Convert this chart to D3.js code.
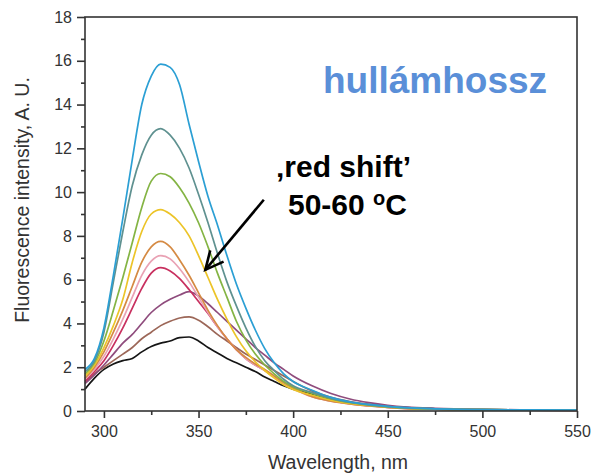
<!DOCTYPE html>
<html><head><meta charset="utf-8">
<script src="https://cdn.jsdelivr.net/npm/d3@7"></script>
<style>
html,body{margin:0;padding:0;background:#fff;}
svg{display:block;font-family:"Liberation Sans",Arial,sans-serif;}
</style></head>
<body><svg id="c" width="592" height="475"></svg>
<script>
const wavelengths = [290,295,300,305,310,315,320,325,330,335,340,345,350,355,360,365,370,375,380,385,390,395,400,410,420,430,440,450,460,475,500,525,550];
const blue    = [1.9,2.4,3.8,6.2,8.8,11.5,14.0,15.3,15.85,15.7,14.9,13.1,11.4,9.8,8.5,7.1,5.8,4.7,3.7,2.85,2.2,1.7,1.35,0.95,0.62,0.42,0.3,0.21,0.15,0.1,0.06,0.05,0.04];
const teal    = [1.8,2.3,3.6,5.9,8.2,10.3,11.7,12.6,12.9,12.6,12.0,11.1,9.9,8.6,7.2,5.9,4.8,3.8,2.95,2.3,1.85,1.45,1.15,0.85,0.58,0.4,0.28,0.2,0.14,0.1,0.06,0.05,0.04];
const green   = [1.7,2.2,3.2,4.6,6.1,7.7,9.3,10.5,10.85,10.7,10.2,9.5,8.6,7.5,6.3,5.2,4.1,3.25,2.6,2.1,1.7,1.35,1.1,0.8,0.55,0.38,0.27,0.19,0.13,0.09,0.06,0.05,0.04];
const yellow  = [1.6,2.1,2.9,3.9,5.1,6.8,8.2,9.0,9.2,9.0,8.6,8.0,7.1,6.1,5.1,4.2,3.4,2.75,2.25,1.85,1.5,1.2,0.98,0.72,0.5,0.35,0.25,0.18,0.13,0.09,0.06,0.05,0.04];
const orange  = [1.5,2.0,2.7,3.6,4.6,5.7,6.8,7.5,7.75,7.5,6.9,6.2,5.4,4.6,3.9,3.3,2.8,2.45,2.15,1.9,1.6,1.3,1.05,0.65,0.45,0.32,0.23,0.16,0.11,0.08,0.05,0.04,0.03];
const pink    = [1.45,1.9,2.5,3.3,4.2,5.2,6.2,6.85,7.1,6.95,6.5,5.9,5.2,4.5,3.85,3.3,2.8,2.4,2.1,1.85,1.55,1.25,1.02,0.65,0.45,0.32,0.23,0.16,0.11,0.08,0.05,0.04,0.03];
const crimson = [1.35,1.8,2.3,3.0,3.8,4.7,5.6,6.3,6.55,6.4,6.05,5.55,5.0,4.45,3.85,3.3,2.8,2.4,2.1,1.85,1.55,1.25,1.05,0.68,0.47,0.33,0.24,0.17,0.12,0.08,0.05,0.04,0.03];
const purple  = [1.25,1.65,2.1,2.6,3.1,3.5,4.0,4.5,4.85,5.1,5.3,5.45,5.25,4.9,4.5,4.1,3.7,3.3,2.9,2.55,2.2,1.9,1.6,1.15,0.8,0.55,0.38,0.26,0.18,0.12,0.07,0.05,0.04];
const brown   = [1.3,1.7,2.0,2.3,2.6,2.9,3.3,3.6,3.9,4.1,4.25,4.3,4.15,3.85,3.5,3.2,2.9,2.6,2.35,2.1,1.85,1.6,1.35,0.92,0.62,0.43,0.3,0.21,0.15,0.1,0.06,0.05,0.04];
const black   = [1.0,1.5,1.9,2.15,2.3,2.4,2.7,2.95,3.1,3.2,3.35,3.38,3.2,2.9,2.65,2.4,2.2,2.0,1.8,1.55,1.35,1.15,1.0,0.78,0.55,0.4,0.29,0.21,0.15,0.1,0.06,0.05,0.04];

const seriesNames = ["blue","teal","green","yellow","orange","pink","crimson","purple","brown","black"];
const seriesValues = [blue,teal,green,yellow,orange,pink,crimson,purple,brown,black];
const seriesColors = ["#2b9fd4","#5f9190","#84b444","#ecc428","#d58a43","#e9a2b4","#c8305f","#8f4c7d","#9c6758","#151515"];

const xMajor = [300,350,400,450,500,550];
const xMinor = [325,375,425,475,525];
const yMajor = [0,2,4,6,8,10,12,14,16,18];
const yMinor = [1,3,5,7,9,11,13,15,17];

const svg = d3.select("#c");
const L=85, R=577, T=17, B=411;
const x = d3.scaleLinear().domain([290,550]).range([L,R]);
const y = d3.scaleLinear().domain([0,18]).range([B,T]);
const axisColor = "#333";

// curves (draw from bottom to top so blue is on top)
const line = d3.line().x(d=>x(d[0])).y(d=>y(d[1])).curve(d3.curveMonotoneX);
const order = d3.range(seriesValues.length).reverse();
svg.append("g").selectAll("path").data(order).join("path")
  .attr("d", i => line(wavelengths.map((w,j)=>[w, seriesValues[i][j]])))
  .attr("fill","none").attr("stroke", i=>seriesColors[i]).attr("stroke-width",1.7)
  .attr("stroke-linejoin","round");

// frame
svg.append("rect").attr("x",L).attr("y",T).attr("width",R-L).attr("height",B-T)
  .attr("fill","none").attr("stroke",axisColor).attr("stroke-width",1.6);

// x axis
const xa = svg.append("g").attr("transform",`translate(0,${B})`)
  .call(d3.axisBottom(x).tickValues(xMajor).tickSize(7).tickPadding(8).tickFormat(d3.format("d")));
xa.select(".domain").remove();
xa.selectAll(".tick line").attr("stroke",axisColor).attr("stroke-width",1.6);
xa.selectAll(".tick text").attr("fill",axisColor).style("font-size","16px").style("font-family","'Liberation Sans',Arial,sans-serif");
const xm = svg.append("g").attr("transform",`translate(0,${B})`)
  .call(d3.axisBottom(x).tickValues(xMinor).tickSize(4).tickFormat(""));
xm.select(".domain").remove();
xm.selectAll(".tick line").attr("stroke",axisColor).attr("stroke-width",1.6);

// y axis
const ya = svg.append("g").attr("transform",`translate(${L},0)`)
  .call(d3.axisLeft(y).tickValues(yMajor).tickSize(8).tickPadding(5).tickFormat(d3.format("d")));
ya.select(".domain").remove();
ya.selectAll(".tick line").attr("stroke",axisColor).attr("stroke-width",1.6);
ya.selectAll(".tick text").attr("fill",axisColor).style("font-size","16px").style("font-family","'Liberation Sans',Arial,sans-serif");
const ym = svg.append("g").attr("transform",`translate(${L},0)`)
  .call(d3.axisLeft(y).tickValues(yMinor).tickSize(4).tickFormat(""));
ym.select(".domain").remove();
ym.selectAll(".tick line").attr("stroke",axisColor).attr("stroke-width",1.6);

// axis titles
svg.append("text").attr("x",338).attr("y",469).attr("text-anchor","middle")
  .attr("fill",axisColor).style("font-size","19.5px").text("Wavelength, nm");
svg.append("text").attr("transform","translate(29,200) rotate(-90)").attr("text-anchor","middle")
  .attr("fill",axisColor).style("font-size","19.5px").text("Fluorescence intensity, A. U.");

// annotations
svg.append("text").attr("x",323).attr("y",93).attr("fill","#5a8fd8")
  .style("font-size","37px").style("font-weight","bold").text("hullámhossz");
svg.append("text").attr("x",276).attr("y",177).attr("fill","#000")
  .style("font-size","30px").style("font-weight","bold").text("\u201Ared shift\u2019");
const t2 = svg.append("text").attr("x",288).attr("y",215).attr("fill","#000")
  .style("font-size","30px").style("font-weight","bold");
t2.append("tspan").text("50-60 ");
t2.append("tspan").attr("dy",-10).style("font-size","20px").text("o");
t2.append("tspan").attr("dy",10).text("C");

// arrow
const arrowFrom = [384.5, 9.65], arrowTip = [353.6, 6.45];
const ax0=x(arrowFrom[0]), ay0=y(arrowFrom[1]), ax1=x(arrowTip[0]), ay1=y(arrowTip[1]);
svg.append("line").attr("x1",ax0).attr("y1",ay0).attr("x2",ax1).attr("y2",ay1)
  .attr("stroke","#000").attr("stroke-width",2.6);
const ang = Math.atan2(ay0-ay1, ax0-ax1), hl=20, spread=0.45;
svg.append("path").attr("d",`M${ax1+hl*Math.cos(ang-spread)},${ay1+hl*Math.sin(ang-spread)}L${ax1},${ay1}L${ax1+hl*Math.cos(ang+spread)},${ay1+hl*Math.sin(ang+spread)}`)
  .attr("fill","none").attr("stroke","#000").attr("stroke-width",2.6).attr("stroke-linejoin","miter");
</script></body></html>
